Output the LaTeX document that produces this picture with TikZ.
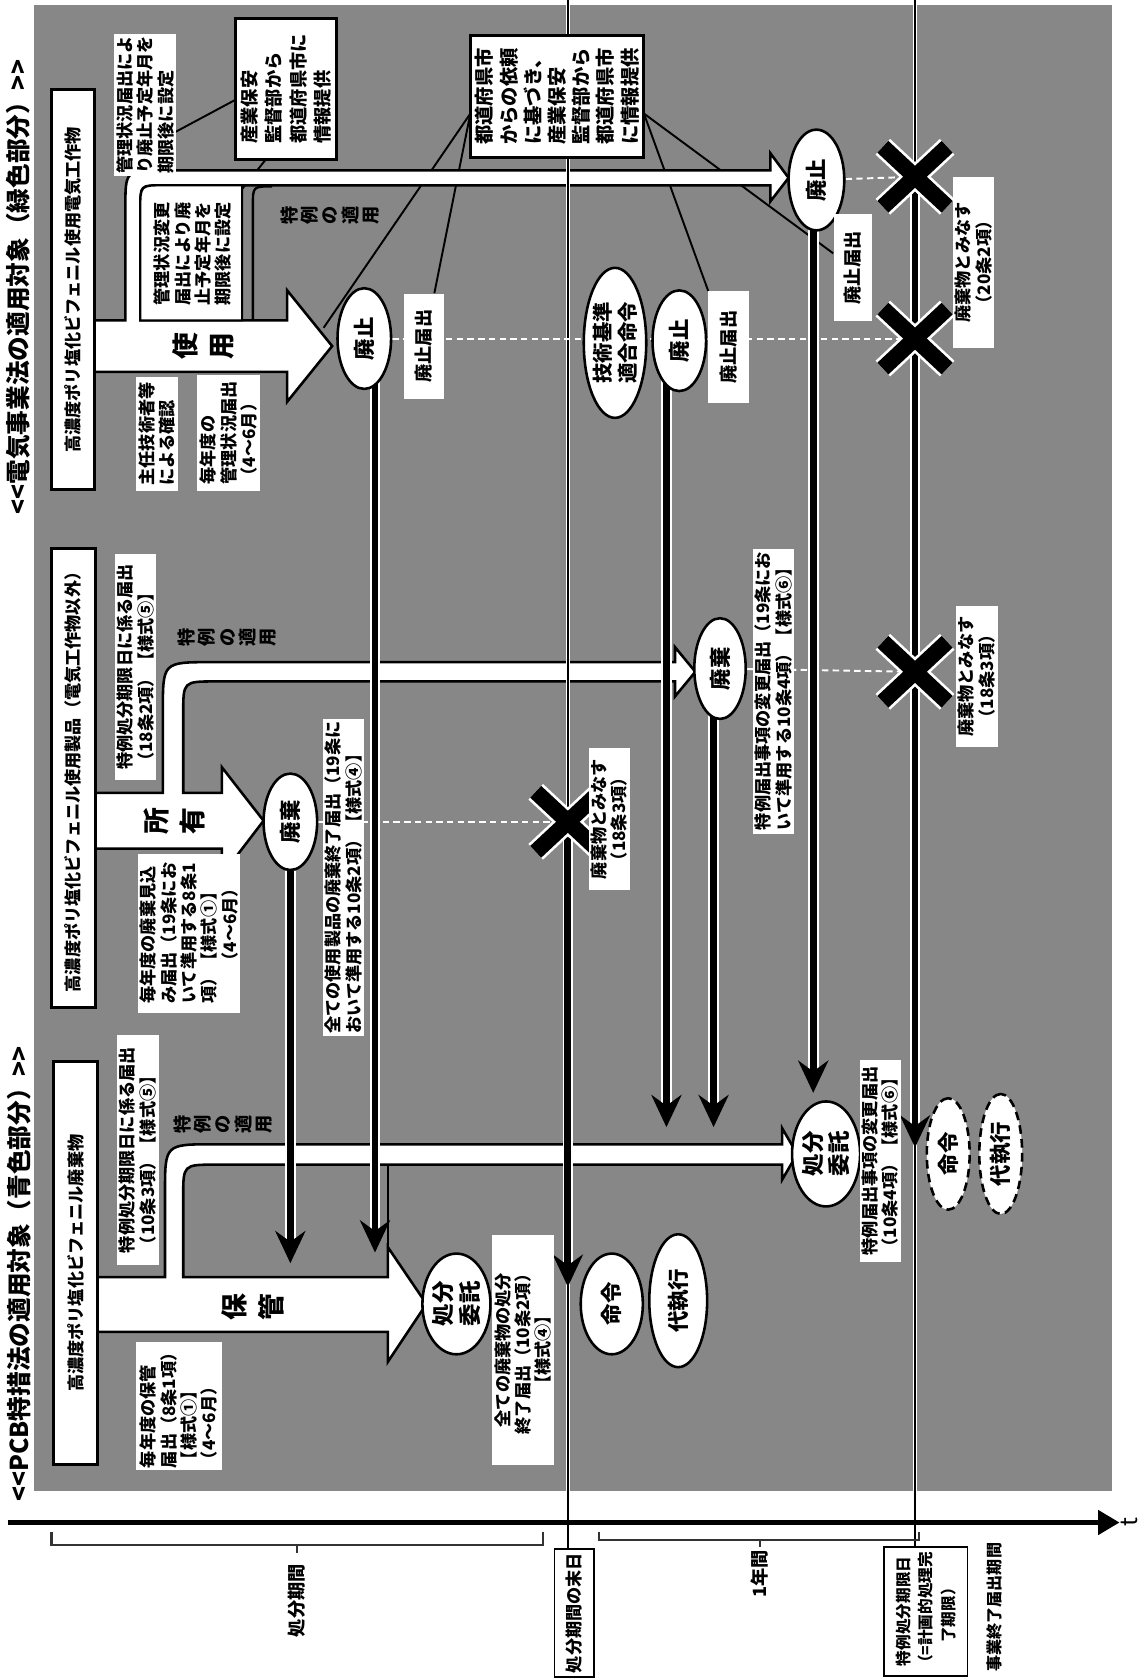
\documentclass[tikz,border=0pt]{standalone}
\usepackage{fontspec}
\setmainfont{Noto Sans CJK JP}
\usetikzlibrary{shapes.geometric,arrows.meta}
\pgfdeclarelayer{back}
\pgfdeclarelayer{arr}
\pgfdeclarelayer{mid}
\pgfsetlayers{back,arr,mid,main}
\definecolor{bgc}{gray}{0.53}
\newcommand\jf[2]{\fontsize{#1}{#2}\selectfont\bfseries}
\newcommand\xmk[1]{%
 \draw[xc] (#1) ++(-30,-28) -- ++(60,56);
 \draw[xc] (#1) ++(-30,28) -- ++(60,-56);
 \draw[xk] (#1) ++(-30,-28) -- ++(60,56);
 \draw[xk] (#1) ++(-30,28) -- ++(60,-56);}
\tikzset{
 sz/.style 2 args={minimum width={#2*0.5pt},minimum height={#1*0.5pt}},
 txt/.style={rotate=90,inner sep=1pt,align=left,font=\jf{8}{9.5}},
 wbox/.style={txt,fill=white},
 kbox/.style={txt,fill=white,draw=black,line width=1.4pt},
 ell/.style={ellipse,draw=black,fill=white,line width=1.2pt,rotate=90,inner sep=0pt,align=center,font=\jf{10}{12}},
 dell/.style={ell,dash pattern=on 4pt off 2.5pt},
 tate/.style={rotate=90,inner sep=0pt,align=center,font=\jf{8.5}{9.5}},
 bigl/.style={rotate=90,inner sep=0pt,align=center,font=\jf{12.5}{17}},
 bigarrow/.style={fill=white,draw=black,line width=1.2pt,line join=miter},
 rimline/.style={draw=black,line width=1.1pt},
 fan/.style={draw=black,line width=0.9pt},
 vthinc/.style={draw=white,line width=2.2pt},
 vthin/.style={draw=black,line width=0.7pt},
 flowc/.style={draw=white,line width=5pt,shorten >=9pt},
 flow/.style={draw=black,line width=3.2pt,-{Stealth[length=15pt,width=14pt,inset=5pt]}},
 dashln/.style={draw=white,line width=0.9pt,dash pattern=on 3pt off 2pt},
 xc/.style={draw=white,line width=10pt},
 xk/.style={draw=black,line width=7.5pt},
 brk/.style={draw=black!80,line width=1pt},
}
\begin{document}
\begin{tikzpicture}[x=0.5pt,y=-0.5pt]
\useasboundingbox (0,0) rectangle (1066,1568);

% ---------------- top band (electric) ----------------
\node[txt,font=\jf{11.5}{14}] (hdrE) at (17,268) {<{}<電気事業法の適用対象（緑色部分）>{}>};
\node[kbox,sz={40}{373}] (labE) at (68,270.5) {高濃度ポリ塩化ビフェニル使用電気工作物};
\node[wbox,sz={57}{130}] (tE1) at (135.5,98) {管理状況届出によ\\り廃止予定年月を\\期限後に設定};
\node[kbox,sz={94}{132},font=\jf{8.5}{11.5}] (bE2) at (267,83) {産業保安\\監督部から\\都道府県市に\\情報提供};
\node[wbox,sz={39}{106}] (tE3) at (146.5,405) {主任技術者等\\による確認};
\node[wbox,sz={59}{108}] (tE4) at (213.5,404) {毎年度の\\管理状況届出\\（4～6月）};
\draw[fill=white,line width=1pt] (131,299) -- (131,195) .. controls (131,173) .. (153,173) -- (226,173) -- (226,299) -- cycle;
\node[txt] (tE5) at (180,237) {管理状況変更\\届出により廃\\止予定年月を\\期限後に設定};
\node[tate] (tokE) at (308,201) {特\\例\\の\\適\\用};
\node[bigl] (useL) at (190,323) {使\\用};
\node[ell,sz={50}{94}] (hai1) at (340,316) {廃止};
\node[wbox,sz={37}{98},font=\jf{8.5}{10}] (hk1) at (395.5,323) {廃止届出};
\node[kbox,sz={162}{114},font=\jf{9}{11.3}] (bigb) at (520,90) {都道府県市\\からの依頼\\に基づき、\\産業保安\\監督部から\\都道府県市\\に情報提供};
\node[ell,sz={58}{140},font=\jf{9.5}{11.5}] (gij) at (574,320) {技術基準\\適合命令};
\node[ell,sz={50}{94}] (hai2) at (634,318) {廃止};
\node[wbox,sz={38}{104},font=\jf{8.5}{10}] (hk2) at (680,324) {廃止届出};
\node[ell,sz={52}{94}] (hai3) at (762,168) {廃止};
\node[wbox,sz={36}{100},font=\jf{8.5}{10}] (hk3) at (796,250) {廃止届出};
\node[wbox,sz={39}{160},align=center] (mn20) at (908.5,245) {廃棄物とみなす\\（20条2項）};

% ---------------- middle band (products) ----------------
\node[kbox,sz={41}{428}] (labM) at (68.5,726) {高濃度ポリ塩化ビフェニル使用製品（電気工作物以外）};
\node[wbox,sz={39}{211}] (tM1) at (126.5,622.5) {特例処分期限日に係る届出\\（18条2項）【様式⑤】};
\node[tate] (tokM) at (212,595) {特\\例\\の\\適\\用};
\node[bigl] (ownL) at (163,766) {所\\有};
\node[ell,sz={50}{90}] (hka) at (271,767) {廃棄};
\node[wbox,sz={95}{148}] (tM2) at (176.5,871) {毎年度の廃棄見込\\み届出（19条にお\\いて準用する8条1\\項）【様式①】\\\hspace*{2em}（4～6月）};
\node[wbox,sz={37}{290}] (tM3) at (320.5,819) {全ての使用製品の廃棄終了届出（19条に\\おいて準用する10条2項）【様式④】};
\node[wbox,sz={37}{133},align=center] (mn18a) at (568.5,764.5) {廃棄物とみなす\\（18条3項）};
\node[wbox,sz={34}{266}] (tM4) at (722,645) {特例届出事項の変更届出（19条にお\\いて準用する10条4項）【様式⑥】};
\node[ell,sz={48}{94}] (hkb) at (672,624) {廃棄};
\node[wbox,sz={39}{131},align=center] (mn18b) at (911.5,631.5) {廃棄物とみなす\\（18条3項）};

% ---------------- bottom band (waste) ----------------
\node[txt,font=\jf{11.5}{14}] (hdrP) at (18,1189) {<{}<PCB特措法の適用対象（青色部分）>{}>};
\node[kbox,sz={41}{376}] (labP) at (70.5,1179) {高濃度ポリ塩化ビフェニル廃棄物};
\node[wbox,sz={80}{109}] (tP1) at (167,1312.5) {毎年度の保管\\届出（8条1項）\\【様式①】\\（4～6月）};
\node[wbox,sz={39}{215}] (tP2) at (128.5,1073.5) {特例処分期限日に係る届出\\（10条3項）【様式⑤】};
\node[tate] (tokP) at (208,1049) {特\\例\\の\\適\\用};
\node[bigl] (keepL) at (236,1220) {保\\管};
\node[ell,sz={58}{94},font=\jf{10.5}{12.5}] (itk1) at (426,1217) {処分\\委託};
\node[wbox,sz={54}{214},align=center] (tP3) at (488,1260) {全ての廃棄物の処分\\終了届出（10条2項）\\【様式④】};
\node[ell,sz={58}{94}] (mei1) at (571,1217) {命令};
\node[ell,sz={54}{124}] (dai1) at (633,1214) {代執行};
\node[ell,sz={56}{98},font=\jf{10.5}{12.5}] (itk2) at (771,1077) {処分\\委託};
\node[wbox,sz={37}{189}] (tP4) at (821.5,1083.5) {特例届出事項の変更届出\\（10条4項）【様式⑥】};
\node[dell,sz={40}{104}] (mei2) at (885,1077) {命令};
\node[dell,sz={40}{112}] (dai2) at (934,1077) {代執行};

% ---------------- time axis ----------------
\node[txt,font=\jf{8.5}{10}] (lblA) at (277,1494) {処分期間};
\node[txt,draw=black,line width=0.8pt,sz={37}{119},align=center] (lblB) at (536,1505.5) {処分期間の末日};
\node[txt,font=\jf{8.5}{10}] (lblC) at (709,1469) {1年間};
\node[txt,draw=black,line width=0.8pt,sz={78}{120},align=center,font=\jf{7.3}{10.5}] (lblD) at (864,1504) {特例処分期限日\\（=計画的処理完\\了期限）};
\node[txt,font=\jf{7.5}{9}] (lblE) at (928,1500) {事業終了届出期間};
\node[rotate=90,inner sep=0pt,font=\fontsize{11}{11}\selectfont] (lblT) at (1054,1421) {t};

\coordinate (ax0) at (7,1421);
\coordinate (ax1) at (1045,1421);
\coordinate (v1t) at (530,0);
\coordinate (v1b) at (530,1446);
\coordinate (v2t) at (854,0);
\coordinate (v2b) at (854,1444);
\coordinate (xm) at (530,767);
\coordinate (xa) at (854,165);
\coordinate (xb) at (854,316);
\coordinate (x2) at (854,627);
\coordinate (f1e) at (530,1201);
\coordinate (f2e) at (854,1071);
\coordinate (l1s) at (350,316);
\coordinate (l1e) at (350,1169);
\coordinate (l2e) at (271,1179);
\coordinate (l3s) at (622,318);
\coordinate (l3e) at (622,1052);
\coordinate (l4s) at (666,624);
\coordinate (l4e) at (666,1052);
\coordinate (l5s) at (759,168);
\coordinate (l5e) at (759,1020);
\coordinate (fL) at (439,106);
\coordinate (fR) at (601,106);
\coordinate (fA) at (302,306);
\coordinate (s1) at (220,93);
\coordinate (s2) at (164,123);
\coordinate (s3) at (248,149);
\coordinate (s4) at (215,190);

\begin{pgfonlayer}{back}
 \fill[white] (0,0) rectangle (1066,1568);
 \fill[bgc] (32,5) rectangle (1038,1392);
 \draw[fan] (fL) -- (fA);
 \draw[fan] (fL) -- (hk1);
 \draw[fan] (fR) -- (hk2);
 \draw[fan] (fR) -- (hk3);
 \draw[fan] (s1) -- (s2);
 \draw[fan] (s3) -- (s4);
\end{pgfonlayer}

\begin{pgfonlayer}{arr}
 % 使用
 \draw[bigarrow] (85,347) -- (268,347) -- (268,375) -- (310,323) -- (268,271) -- (268,299) -- (131,299) -- (131,193) .. controls (131,173) .. (151,173) -- (719,173) -- (719,188) -- (736,166) -- (719,143) -- (719,159) -- (152,159) .. controls (117,159) .. (117,194) -- (117,299) -- (85,299) -- cycle;
 \draw[rimline] (236,299) -- (236,192) .. controls (236,174) .. (254,174);
 % 所有
 \draw[bigarrow] (85,792) -- (207,792) -- (207,817) -- (246,766) -- (207,716) -- (207,740) -- (171,740) -- (171,666) .. controls (171,636) .. (201,636) -- (630,636) -- (630,650) -- (649,627) -- (630,604) -- (630,618) -- (197,618) .. controls (152,618) .. (152,663) -- (152,740) -- (85,740) -- cycle;
 % 保管
 \draw[bigarrow] (85,1243) -- (362,1243) -- (362,1271) -- (398,1217) -- (362,1164) -- (362,1192) -- (171,1192) -- (171,1117) .. controls (171,1087) .. (201,1087) -- (730,1087) -- (730,1101) -- (744,1077) -- (730,1053) -- (730,1068) -- (199,1068) .. controls (154,1068) .. (154,1113) -- (154,1192) -- (85,1192) -- cycle;
 \draw[rimline] (362,1087) -- (362,1164);
\end{pgfonlayer}

\begin{pgfonlayer}{mid}
 % thin timeline markers
 \draw[vthinc] (v1t) -- (v1b);
 \draw[vthin] (v1t) -- (v1b);
 \draw[vthinc] (v2t) -- (v2b);
 \draw[vthin] (v2t) -- (v2b);
 % dashed notices
 \draw[dashln] (hai1) -- (xb);
 \draw[dashln] (hai3) -- (xa);
 \draw[dashln] (hka) -- (xm);
 \draw[dashln] (hkb) -- (x2);
 % thick flows
 \draw[flowc] (xm) -- (f1e);  \draw[flow] (xm) -- (f1e);
 \draw[flowc] (xa) -- (f2e);  \draw[flow] (xa) -- (f2e);
 \draw[flowc] (l1s) -- (l1e); \draw[flow] (l1s) -- (l1e);
 \draw[flowc] (hka) -- (l2e); \draw[flow] (hka) -- (l2e);
 \draw[flowc] (l3s) -- (l3e); \draw[flow] (l3s) -- (l3e);
 \draw[flowc] (l4s) -- (l4e); \draw[flow] (l4s) -- (l4e);
 \draw[flowc] (l5s) -- (l5e); \draw[flow] (l5s) -- (l5e);
 % X marks
 \xmk{xm} \xmk{xa} \xmk{xb} \xmk{x2}
 % axis and brackets
 \draw[line width=2.5pt,-{Triangle[length=10pt,width=11pt]}] (ax0) -- (ax1);
 \draw[brk] (48,1430) -- (48,1442) -- (507,1442) -- (507,1430);
 \draw[brk] (277,1442) -- (277,1449);
 \draw[brk] (559,1430) -- (559,1437) -- (858,1437) -- (858,1430);
 \draw[brk] (709,1437) -- (709,1444);
\end{pgfonlayer}
\end{tikzpicture}
\end{document}
